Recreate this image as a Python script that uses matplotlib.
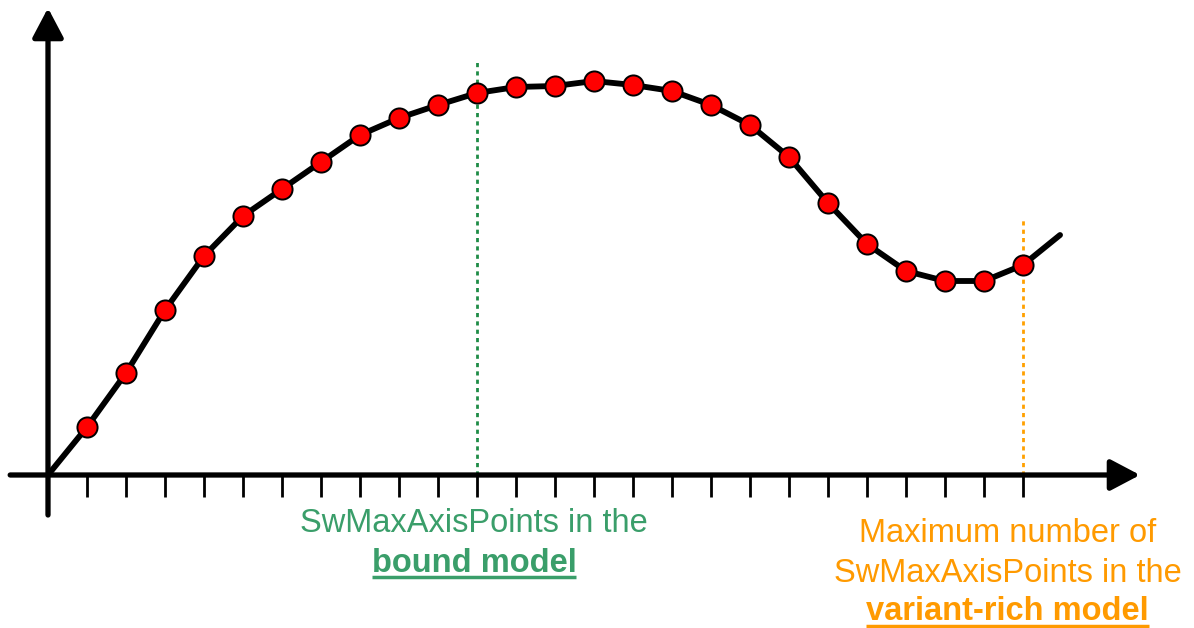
import matplotlib
matplotlib.use("Agg")
import matplotlib.pyplot as plt

plt.rcParams['font.family'] = ['Liberation Sans', 'DejaVu Sans']

# sample positions (tick index) and values
pts_x = list(range(1, 26))
pts_y = [48, 102, 165, 219, 259, 286, 313, 340, 357, 370, 382, 388, 389,
         394, 390, 384, 370, 350, 318, 272, 231, 204, 194, 194, 210]
curve_x = [0] + pts_x + [25.95]
curve_y = [0] + pts_y + [240]
ticks = list(range(1, 26))
bound_x = 11
variant_x = 25

green_line = '#1E8C46'
green_text = '#3A9E6A'
orange_line = '#FFA000'
orange_text = '#FF9A00'

fig = plt.figure(figsize=(11.94, 6.28), dpi=100)
ax = fig.add_axes([0, 0, 1, 1])
ax.set_xlim(-48 / 39, (1194 - 48) / 39)
ax.set_ylim(-153, 475)
ax.axis('off')

# axes with arrow heads
arrow = dict(arrowstyle='-|>,head_length=1.8,head_width=0.95', lw=3.8,
             color='black', mutation_scale=10, shrinkA=0, shrinkB=0)
ax.annotate('', xy=(0.0, 467), xytext=(0.0, -40), arrowprops=arrow)
ax.annotate('', xy=(28.0, 0), xytext=(-0.97, 0), arrowprops=arrow)

# tick marks below the x axis
ax.vlines(ticks, -22, 0, color='black', lw=2)

# vertical markers
ax.vlines(bound_x, 0, 415, color=green_line, lw=2, linestyles=(0, (1.5, 1.5)))
ax.vlines(variant_x, 0, 255, color=orange_line, lw=2, linestyles=(0, (1.5, 1.5)))

# curve and points
ax.plot(curve_x, curve_y, color='black', lw=4.2, solid_joinstyle='round',
        solid_capstyle='round', zorder=3)
ax.plot(pts_x, pts_y, 'o', color='red', markersize=14.5, markeredgecolor='black',
        markeredgewidth=1.4, zorder=4)

fs = 23.5
ax.text(10.92, -49, 'SwMaxAxisPoints in the', color=green_text, fontsize=fs,
        ha='center', va='center')
t1 = ax.text(10.92, -88, 'bound model', color=green_text, fontsize=fs,
             fontweight='bold', ha='center', va='center')
ax.text(24.6, -58, 'Maximum number of', color=orange_text, fontsize=fs,
        ha='center', va='center')
ax.text(24.6, -98, 'SwMaxAxisPoints in the', color=orange_text, fontsize=fs,
        ha='center', va='center')
t2 = ax.text(24.6, -137, 'variant-rich model', color=orange_text, fontsize=fs,
             fontweight='bold', ha='center', va='center')

# underline the bold labels
fig.canvas.draw()
r = fig.canvas.get_renderer()
inv = ax.transData.inverted()
for t, c in [(t1, green_text), (t2, orange_text)]:
    bb = t.get_window_extent(r)
    (x0, y0), (x1, _) = inv.transform([(bb.x0, bb.y0 + 2), (bb.x1, bb.y0)])
    ax.plot([x0, x1], [y0, y0], color=c, lw=2.5, solid_capstyle='butt')

fig.savefig('out.png', dpi=100)
